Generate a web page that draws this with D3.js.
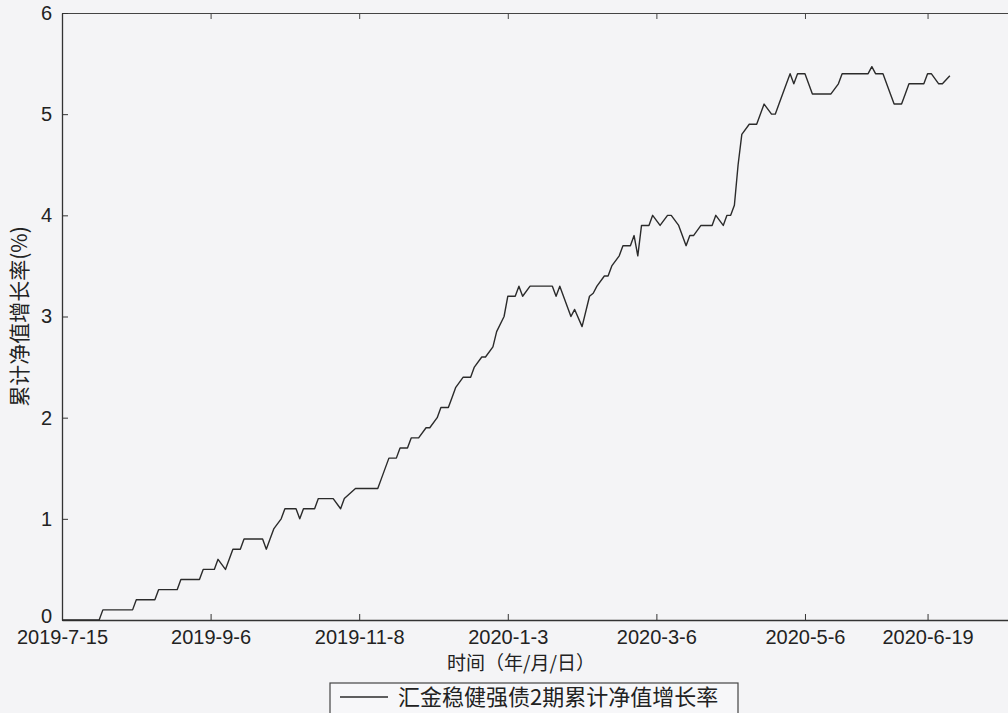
<!DOCTYPE html>
<html>
<head>
<meta charset="utf-8">
<script src="https://cdn.jsdelivr.net/npm/d3@7"></script>
<style>
  body { margin: 0; background: #f4f4f6; }
  svg { display: block; }
  .tick text { font-family: "Liberation Sans", Arial, sans-serif; font-size: 20px; fill: #222; }
  .cjk { font-family: "Noto Sans CJK SC", sans-serif; fill: #222; }
</style>
</head>
<body>
<div id="chart"></div>
<script>
var dayIdx = [0, 10, 11, 19, 20, 25, 26, 31, 32, 37, 38, 41, 42, 44, 46, 48, 49, 54, 55, 56, 57, 59, 60,
  63, 64, 65, 68, 69, 73, 75, 76, 79, 85, 86, 88, 90, 91, 93, 94, 96, 98, 99, 101, 102, 104, 105, 106, 108,
  110, 111, 113, 114, 116, 117, 119, 120, 122, 123, 124, 126, 132, 133, 134, 137, 138, 140, 142, 143, 144,
  146, 147, 148, 150, 151, 153, 154, 155, 156, 158, 159, 161, 163, 164, 166, 168, 169, 170, 172, 175, 176,
  178, 179, 180, 181, 182, 183, 185, 187, 189, 191, 192, 193, 195, 196, 197, 198, 200, 202, 207, 209, 210,
  217, 218, 219, 221, 223, 224, 226, 227, 228, 232, 233, 234, 236, 237, 239];
var growth = [0, 0, 0.1, 0.1, 0.2, 0.2, 0.3, 0.3, 0.4, 0.4, 0.5, 0.5, 0.6, 0.5, 0.7, 0.7, 0.8, 0.8, 0.7, 0.8, 0.9, 1.0, 1.1,
  1.1, 1.0, 1.1, 1.1, 1.2, 1.2, 1.1, 1.2, 1.3, 1.3, 1.4, 1.6, 1.6, 1.7, 1.7, 1.8, 1.8, 1.9, 1.9, 2.0, 2.1, 2.1, 2.2, 2.3, 2.4,
  2.4, 2.5, 2.6, 2.6, 2.7, 2.85, 3.0, 3.2, 3.2, 3.3, 3.2, 3.3, 3.3, 3.2, 3.3, 3.0, 3.07, 2.9, 3.2, 3.23, 3.3,
  3.4, 3.4, 3.5, 3.6, 3.7, 3.7, 3.8, 3.6, 3.9, 3.9, 4.0, 3.9, 4.0, 4.0, 3.9, 3.7, 3.8, 3.8, 3.9, 3.9, 4.0,
  3.9, 4.0, 4.0, 4.1, 4.5, 4.8, 4.9, 4.9, 5.1, 5.0, 5.0, 5.1, 5.3, 5.4, 5.3, 5.4, 5.4, 5.2, 5.2, 5.3, 5.4,
  5.4, 5.47, 5.4, 5.4, 5.2, 5.1, 5.1, 5.2, 5.3, 5.3, 5.4, 5.4, 5.3, 5.3, 5.38];

var xTickIdx = [0, 40, 80, 120, 160, 200, 233];
var xTickLabels = ["2019-7-15", "2019-9-6", "2019-11-8", "2020-1-3", "2020-3-6", "2020-5-6", "2020-6-19"];
var yTicks = [0, 1, 2, 3, 4, 5, 6];
var seriesName = "汇金稳健强债2期累计净值增长率";

var svgWidth = 1008;
var svgHeight = 713;
var margin = { top: 13, left: 62, bottom: 93 };
var plotRight = 1013;   // right border runs off the page

var svg = d3.select("#chart").append("svg")
  .attr("width", svgWidth)
  .attr("height", svgHeight);

var xScale = d3.scaleLinear()
  .domain([0, 256])
  .range([margin.left, plotRight]);

var yScale = d3.scaleLinear()
  .domain([0, 6])
  .range([svgHeight - margin.bottom, margin.top]);

var y0 = yScale(0);

// bottom axis
var xAxis = d3.axisBottom(xScale)
  .tickValues(xTickIdx)
  .tickFormat((d, i) => xTickLabels[i])
  .tickSizeInner(-6)
  .tickSizeOuter(0)
  .tickPadding(10);

svg.append("g")
  .attr("transform", `translate(0, ${y0})`)
  .call(xAxis)
  .call(g => g.select(".domain").attr("stroke", "#333").attr("stroke-width", 1.3))
  .call(g => g.selectAll(".tick line").attr("stroke", "#333"));

// top border with mirrored ticks
svg.append("g")
  .attr("transform", `translate(0, ${margin.top})`)
  .call(d3.axisTop(xScale).tickValues(xTickIdx).tickFormat("").tickSizeInner(-6).tickSizeOuter(0))
  .call(g => g.select(".domain").attr("stroke", "#444").attr("stroke-width", 1.2))
  .call(g => g.selectAll(".tick line").attr("stroke", "#444"));

// left axis
var yAxis = d3.axisLeft(yScale)
  .tickValues(yTicks)
  .tickFormat(d3.format("d"))
  .tickSizeInner(-6)
  .tickSizeOuter(0)
  .tickPadding(10);

svg.append("g")
  .attr("transform", `translate(${margin.left}, 0)`)
  .call(yAxis)
  .call(g => g.select(".domain").attr("stroke", "#333").attr("stroke-width", 1.3))
  .call(g => g.selectAll(".tick line").attr("stroke", "#333"))
  .call(g => g.selectAll(".tick text").filter(d => d === 0).attr("dy", "0.1em"));

// the series
var line = d3.line()
  .x((d, i) => xScale(dayIdx[i]))
  .y((d, i) => yScale(growth[i]));

svg.append("path")
  .datum(growth)
  .attr("fill", "none")
  .attr("stroke", "#2b2b2b")
  .attr("stroke-width", 1.4)
  .attr("stroke-linejoin", "round")
  .attr("d", line);

// axis titles
svg.append("text")
  .attr("class", "cjk")
  .attr("transform", `translate(27, ${(yScale(0) + yScale(6)) / 2}) rotate(-90)`)
  .attr("text-anchor", "middle")
  .style("font-size", "21px")
  .text("累计净值增长率(%)");

svg.append("text")
  .attr("class", "cjk")
  .attr("x", 521)
  .attr("y", 670)
  .attr("text-anchor", "middle")
  .style("font-size", "19px")
  .text("时间（年/月/日）");

// legend
var legend = svg.append("g").attr("transform", "translate(330, 683)");
legend.append("rect")
  .attr("width", 408)
  .attr("height", 40)
  .attr("fill", "#f7f7f9")
  .attr("stroke", "#444")
  .attr("stroke-width", 1.2);
legend.append("line")
  .attr("x1", 10).attr("x2", 58)
  .attr("y1", 14).attr("y2", 14)
  .attr("stroke", "#2b2b2b")
  .attr("stroke-width", 1.4);
legend.append("text")
  .attr("class", "cjk")
  .attr("x", 68)
  .attr("y", 22)
  .style("font-size", "22px")
  .text(seriesName);
</script>
</body>
</html>
